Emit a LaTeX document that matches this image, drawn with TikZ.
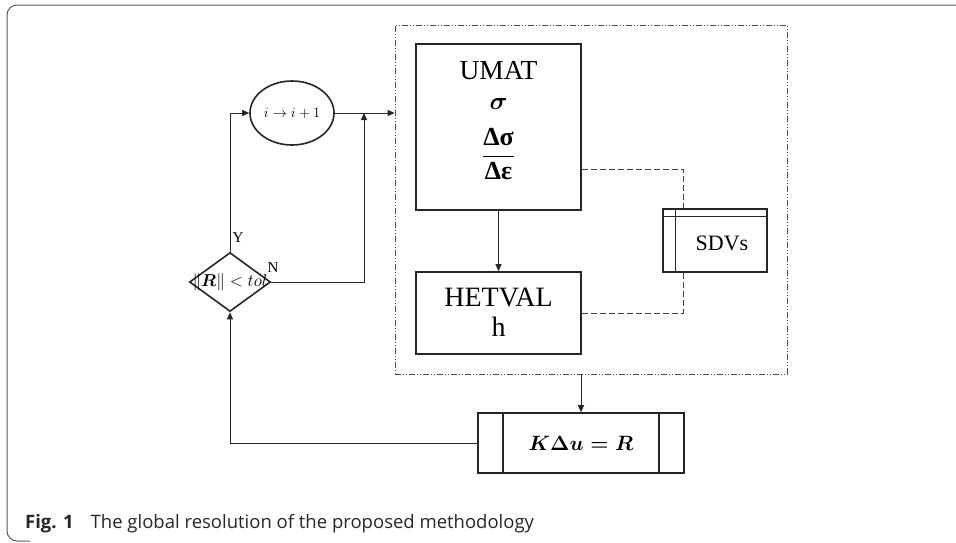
\documentclass[tikz,border=0pt]{standalone}
\usepackage{amsmath}
\usepackage{fontspec}
\setmainfont{Liberation Serif}
\newfontfamily\capfont{Open Sans}
\usetikzlibrary{arrows.meta,shapes.geometric}
\begin{document}
\begin{tikzpicture}[x=1pt,y=-1pt,
  boxthick/.style={draw=black!85, line width=1.6pt, inner sep=0pt},
  conn/.style={draw=black!85, line width=0.9pt},
  arr/.style={conn, -{Triangle[length=7pt,width=6pt]}},
  sdvline/.style={draw=black!75, line width=0.8pt, dash pattern=on 6pt off 3pt},
  ddbox/.style={draw=black!70, line width=0.8pt, dash pattern=on 6pt off 2pt on 1pt off 2pt on 1pt off 2pt, inner sep=0pt},
  lbl/.style={font=\fontsize{15}{17}\selectfont, inner sep=0pt},
  big/.style={inner sep=0pt, font=\fontsize{27.5}{30}\selectfont}
]
\useasboundingbox (0,0) rectangle (956,542);
% outer frame
\draw[black!65, line width=1pt, rounded corners=10pt] (956,5) -- (7,5) -- (7,541) -- (30,541);

% dash-dot container
\node[ddbox, minimum width=392pt, minimum height=349pt] (dd) at (591,199.5) {};

% UMAT
\node[boxthick, minimum width=165pt, minimum height=166pt] (umat) at (498.5,127) {};
\node[big] (umattext) at (498.5,71) {UMAT};
\node[big, font=\fontsize{26}{28}\selectfont] (sigtext) at (498.5,104) {$\boldsymbol{\sigma}$};
\node[big, font=\fontsize{26}{28}\selectfont] (fractext) at (498.5,154) {$\dfrac{\text{\bfseries Δσ}\rule[-5pt]{0pt}{5pt}}{\text{\bfseries Δε}\rule{0pt}{20pt}}$};

% HETVAL
\node[boxthick, minimum width=165pt, minimum height=82pt] (het) at (498.5,313) {};
\node[big, align=center, font=\fontsize{28}{30}\selectfont] (hettext) at (498.5,312) {HETVAL\\h};

% SDVs
\node[draw=black!85, line width=1.4pt, minimum width=104pt, minimum height=63pt, inner sep=0pt] (sdv) at (715,240.5) {};
\node[inner sep=0pt, font=\fontsize{22}{24}\selectfont] (sdvtext) at (722,243) {SDVs};
\draw[black!85, line width=1.4pt] ([yshift=-8pt]sdv.north west) -- ([yshift=-8pt]sdv.north east);
\draw[black!85, line width=1.4pt] ([xshift=13pt]sdv.north west) -- ([xshift=13pt]sdv.south west);

% K box
\node[boxthick, minimum width=206pt, minimum height=60pt] (kb) at (581,443) {};
\node[inner sep=0pt, font=\fontsize{20}{22}\selectfont] (kbtext) at (581,443) {$\boldsymbol{K\Delta u = R}$};
\draw[black!85, line width=1.6pt] ([xshift=26pt]kb.north west) -- ([xshift=26pt]kb.south west);
\draw[black!85, line width=1.6pt] ([xshift=-26pt]kb.north east) -- ([xshift=-26pt]kb.south east);

% ellipse
\node[draw=black!85, line width=1.6pt, ellipse, minimum width=84pt, minimum height=64pt, inner sep=0pt] (ell) at (292,113) {};
\node[inner sep=0pt, font=\fontsize{14}{16}\selectfont] (elltext) at (292,113) {$i\rightarrow i+1$};

% diamond
\node[draw=black!85, line width=1.6pt, diamond, minimum width=81pt, minimum height=59pt, inner sep=0pt, aspect=1.37] (dia) at (230,282) {};
\node[inner sep=0pt, font=\fontsize{17.5}{19}\selectfont] (diatext) at (230,282) {$\|\boldsymbol{R}\|<tol$};

% labels
\node[lbl] (ylab) at (238,238) {Y};
\node[lbl] (nlab) at (273,268) {N};

% connectors
\coordinate (njoin) at (364,113);
\coordinate (dj) at (683,169);
\draw[arr] (dia.north) |- (ell.west);
\draw[arr] (ell.east) -- (ell.east -| dd.west);
\draw[arr] (dia.east) -| (njoin);
\draw[arr] (umat.south) -- (het.north);
\draw[arr] (dd.south -| kb.north) -- (kb.north);
\draw[arr] (kb.west) -| (dia.south);
\draw[sdvline] (umat.east |- dj) -| (sdv.north -| dj);
\draw[sdvline] (het.east) -| (sdv.south -| dj);

% caption
\node[anchor=base west, inner sep=0pt, text=black!85, font=\capfont\fontsize{18.5}{20}\selectfont] (cap) at (25,528)
  {\textbf{Fig. 1}\hspace{17pt}The global resolution of the proposed methodology};
\end{tikzpicture}
\end{document}
